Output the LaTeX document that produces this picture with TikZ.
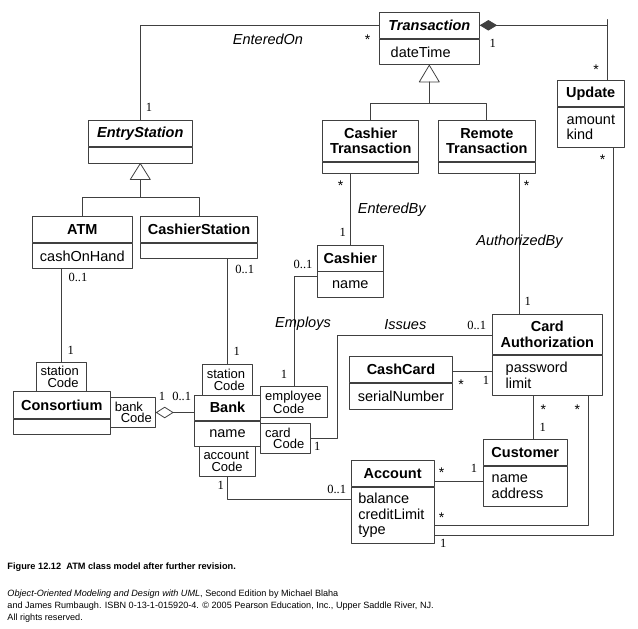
\documentclass[tikz,border=0pt]{standalone}
\usepackage{fontspec}
\setmainfont{Liberation Sans}
\newfontfamily\multfont{Liberation Serif}
\usetikzlibrary{arrows.meta,calc}
\begin{document}
\begin{tikzpicture}[x=1pt,y=-1pt,line cap=round,line join=round,
  every node/.style={inner sep=0pt},
  ln/.style={line width=0.8pt,draw=black!75},
  ttl/.style={ln,font=\bfseries\fontsize{14.5}{15.5}\selectfont,align=center},
  cmp/.style={ln,anchor=north,font=\fontsize{14.5}{15.5}\selectfont},
  qlf/.style={ln,font=\fontsize{13}{11.5}\selectfont,align=left,inner xsep=4.5pt},
  mlt/.style={font=\multfont\fontsize{12.5}{13}\selectfont},
  str/.style={font=\fontsize{14}{14}\selectfont,yshift=-3pt},
  rol/.style={font=\itshape\fontsize{14.5}{15.5}\selectfont},
  cpt/.style={anchor=base west,font=\fontsize{9.1}{11}\selectfont}]
\useasboundingbox (0,0) rectangle (638,629);
\node[ttl,minimum width=100pt,minimum height=26pt] (transT) at (429.3,25.3) {\itshape Transaction};
\node[cmp,minimum height=25.7pt,text width=77.2pt,inner xsep=11.4pt,align=left] (transA) at (transT.south) {dateTime};
\node[ttl,minimum width=104pt,minimum height=26.4pt] (esT) at (140.3,133.5) {\itshape EntryStation};
\node[cmp,minimum width=104pt,minimum height=15.6pt] (esA) at (esT.south) {};
\node[ttl,minimum width=100pt,minimum height=26.3pt] (atmT) at (82.3,229.2) {ATM};
\node[cmp,minimum height=25.4pt,text width=100pt,align=center] (atmA) at (atmT.south) {cashOnHand};
\node[ttl,minimum width=116.6pt,minimum height=26.7pt] (csT) at (199,229.35) {CashierStation};
\node[cmp,minimum width=116.6pt,minimum height=14.6pt] (csA) at (csT.south) {};
\node[ttl,minimum width=96pt,minimum height=41.7pt] (ctT) at (370.7,140.85) {Cashier\\Transaction};
\node[cmp,minimum width=96pt,minimum height=10.6pt] (ctA) at (ctT.south) {};
\node[ttl,minimum width=96.3pt,minimum height=41.7pt] (rtT) at (486.85,140.85) {Remote\\Transaction};
\node[cmp,minimum width=96.3pt,minimum height=10.6pt] (rtA) at (rtT.south) {};
\node[ttl,minimum width=66.7pt,minimum height=26.7pt] (updT) at (590.65,93.35) {Update};
\node[cmp,minimum height=40pt,text width=47.9pt,inner xsep=9.4pt,align=left] (updA) at (updT.south) {amount\\kind};
\node[ttl,minimum width=66pt,minimum height=26pt] (cshT) at (350.3,258) {Cashier};
\node[cmp,minimum height=25.7pt,text width=66pt,align=center] (cshA) at (cshT.south) {name};
\node[ttl,minimum width=110pt,minimum height=40.3pt] (caT) at (547.3,334.15) {Card\\Authorization};
\node[cmp,minimum height=40.7pt,text width=83.2pt,inner xsep=13.4pt,align=left] (caA) at (caT.south) {password\\limit};
\node[ttl,minimum width=103.4pt,minimum height=25.6pt] (ccT) at (401,369.5) {CashCard};
\node[cmp,minimum height=26pt,text width=103.4pt,align=center] (ccA) at (ccT.south) {serialNumber};
\node[ttl,minimum width=84pt,minimum height=26.4pt] (cuT) at (525.3,452.5) {Customer};
\node[cmp,minimum height=40pt,text width=67.2pt,inner xsep=8.4pt,align=left] (cuA) at (cuT.south) {name\\address};
\node[ttl,minimum width=83.3pt,minimum height=26pt] (acT) at (392.65,473.7) {Account};
\node[cmp,minimum height=55.6pt,text width=68.7pt,inner xsep=7.3pt,align=left] (acA) at (acT.south) {balance\\creditLimit\\type};
\node[ttl,minimum width=97pt,minimum height=26.6pt] (coT) at (61.8,405) {Consortium};
\node[cmp,minimum width=97pt,minimum height=15pt] (coA) at (coT.south) {};
\node[ttl,minimum width=66.4pt,minimum height=25.5pt] (bkT) at (227.5,407.75) {Bank};
\node[cmp,minimum height=25.5pt,text width=66.4pt,align=center] (bkA) at (bkT.south) {name};
\node[qlf,text width=41.3pt,minimum height=29.4pt] (cstQ) at (61.15,377) {station\\\hspace*{7pt}Code};
\node[qlf,text width=36pt,minimum height=30.4pt] (bcQ) at (132.8,412.5) {bank\\\hspace*{6pt}Code};
\node[qlf,text width=41pt,minimum height=30.7pt] (bstQ) at (227.3,379.65) {station\\\hspace*{7pt}Code};
\node[qlf,text width=57.6pt,minimum height=30.6pt] (ecQ) at (294,402) {employee\\\hspace*{8pt}Code};
\node[qlf,text width=41pt,minimum height=30pt] (cdQ) at (285.7,438.3) {card\\\hspace*{8pt}Code};
\node[qlf,text width=47.7pt,minimum height=30.7pt] (acQ) at (227.35,461.35) {account\\\hspace*{8pt}Code};
\draw[ln] (esT.north) |- (transT.west);
\draw[ln] (transA.south) -- ++(-10,16.7) -- ++(20,0) -- cycle;
\coordinate (tgB) at ($(transA.south)+(0,16.7)$);
\coordinate (tgJ) at ($(transA.south)+(0,37.7)$);
\draw[ln] (tgB) -- (tgJ) (ctT.north) |- (tgJ) -| (rtT.north);
\draw[ln] (esA.south) -- ++(-10,16) -- ++(20,0) -- cycle;
\coordinate (egB) at ($(esA.south)+(0,16)$);
\coordinate (egJ) at ($(esA.south)+(0,33.4)$);
\draw[ln] (egB) -- (egJ) (atmT.north) |- (egJ) -| (csT.north);
\coordinate (updIn) at ($(updT.north east)+(-17.3,0)$);
\draw[ln] (updIn) -- ++(0,-60);
\draw[ln,-{Diamond[length=17.4pt,width=10.5pt]}] (updIn) |- (transT.east);
\draw[ln,-{Diamond[open,length=18pt,width=11.5pt]}] (bkT.west |- bcQ.east) -- (bcQ.east);
\draw[ln] (cstQ.north) -- (cstQ.north |- atmA.south);
\draw[ln] (bstQ.north) -- (bstQ.north |- csA.south);
\draw[ln] (ecQ.north) |- ($(cshA.north west)+(0,5)$);
\draw[ln] (cshT.north) -- (cshT.north |- ctA.south);
\draw[ln] ($(rtA.south east)+(-16,0)$) coordinate (ab) -- (ab |- caT.north);
\draw[ln] (cdQ.east) -- ++(26,0) |- ($(caT.north west)+(0,22)$);
\draw[ln] (ccT.east) ++(0,2.2) coordinate (cc1) -- (cc1 -| caA.west);
\draw[ln] ($(caA.south west)+(41.7,0)$) coordinate (cu1) -- (cu1 |- cuT.north);
\draw[ln] ($(acT.south east)+(0,-5.7)$) coordinate (ac1) -- (ac1 -| cuA.west);
\draw[ln] (acQ.south) |- ($(acA.north west)+(0,12.3)$);
\draw[ln] ($(caA.south east)+(-14,0)$) |- ($(acA.south east)+(0,-18.3)$);
\draw[ln] ($(updA.south east)+(-11.3,0)$) |- ($(acA.south east)+(0,-8.3)$);
\node[rol] (rEntOn) at (268,39) {EnteredOn};
\node[rol] (rEntBy) at (391.7,210) {EnteredBy};
\node[rol] (rAuth) at (519.5,241.7) {AuthorizedBy};
\node[rol] (rEmp) at (303,324) {Employs};
\node[rol] (rIss) at (405.3,325) {Issues};
\node[mlt] (m1) at (149,107) {1};
\node[mlt] (m2) at (492.7,43.3) {1};
\node[mlt] (m3) at (342.7,232.3) {1};
\node[mlt] (m4) at (527.7,301.7) {1};
\node[mlt] (m5) at (303,264) {0..1};
\node[mlt] (m6) at (284,374) {1};
\node[mlt] (m7) at (78,277) {0..1};
\node[mlt] (m8) at (70.7,350) {1};
\node[mlt] (m9) at (244.7,269) {0..1};
\node[mlt] (m10) at (236.7,351.7) {1};
\node[mlt] (m11) at (162,396) {1};
\node[mlt] (m12) at (181.7,396) {0..1};
\node[mlt] (m13) at (476.7,325.7) {0..1};
\node[mlt] (m14) at (317.3,446.7) {1};
\node[mlt] (m15) at (486,380.7) {1};
\node[mlt] (m16) at (542.7,427.7) {1};
\node[mlt] (m17) at (474,468.3) {1};
\node[mlt] (m18) at (220.7,485) {1};
\node[mlt] (m19) at (336.7,489) {0..1};
\node[mlt] (m20) at (443.3,543.3) {1};
\node[str] (s1) at (367.7,36.7) {*};
\node[str] (s2) at (596,66.7) {*};
\node[str] (s3) at (602.7,156.7) {*};
\node[str] (s4) at (340.7,182.7) {*};
\node[str] (s5) at (526.7,182.7) {*};
\node[str] (s6) at (461,381.7) {*};
\node[str] (s7) at (543.3,406.7) {*};
\node[str] (s8) at (577.3,406.7) {*};
\node[str] (s9) at (441.7,470) {*};
\node[str] (s10) at (441.7,515) {*};
\node[cpt,font=\bfseries\fontsize{9.2}{11}\selectfont] (cap) at (7.3,569.5) {Figure 12.12\ \ ATM class model after further revision.};
\node[cpt] (src1) at (7.3,596.8) {\textit{Object-Oriented Modeling and Design with UML}, Second Edition by Michael Blaha};
\node[cpt] (src2) at (7.3,608.5) {and James Rumbaugh. ISBN 0-13-1-015920-4. © 2005 Pearson Education, Inc., Upper Saddle River, NJ.};
\node[cpt] (src3) at (7.3,620.2) {All rights reserved.};
\end{tikzpicture}
\end{document}
